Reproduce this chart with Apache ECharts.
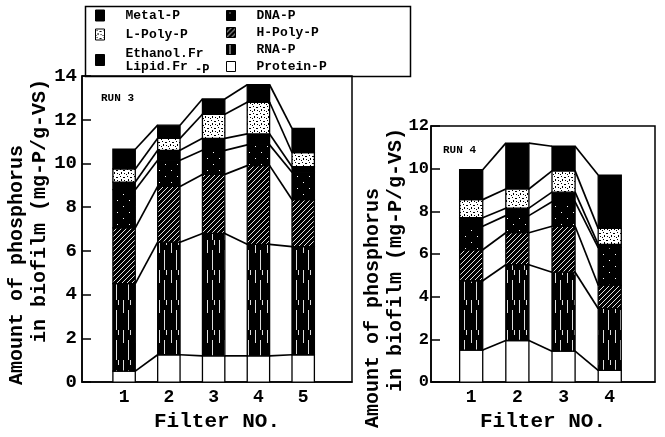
<!DOCTYPE html>
<html>
<head>
<meta charset="utf-8">
<script src="https://cdn.jsdelivr.net/npm/echarts@6/dist/echarts.min.js"></script>
<style>
  html, body { margin: 0; padding: 0; background: #fff; }
  #chart { width: 665px; height: 437px; }
</style>
</head>
<body>
<div id="chart"></div>
<script>
// amount of each fraction (mg-P/g-VS), bottom to top
const filters3 = [1, 2, 3, 4, 5];
const protein3 = [0.5, 1.25, 1.2, 1.2, 1.25];
const rna3 = [4.0, 5.15, 5.6, 5.1, 4.95];
const hpoly3 = [2.55, 2.55, 2.7, 3.6, 2.15];
const dna3 = [1.75, 1.2, 1.1, 0.95, 1.25];
const lipid3 = [0.35, 0.45, 0.55, 0.5, 0.25];
const lpoly3 = [0.6, 0.55, 1.1, 1.45, 0.65];
const metal3 = [0.9, 0.6, 0.7, 0.8, 1.1];

const filters4 = [1, 2, 3, 4];
const protein4 = [1.5, 1.95, 1.45, 0.55];
const rna4 = [3.25, 3.55, 3.7, 2.9];
const hpoly4 = [1.45, 1.5, 2.15, 1.1];
const dna4 = [1.1, 0.8, 1.15, 1.75];
const lipid4 = [0.4, 0.35, 0.45, 0.15];
const lpoly4 = [0.85, 0.9, 1.0, 0.75];
const metal4 = [1.4, 2.15, 1.15, 2.5];

const LIPID = 'Ethanol.Fr-Lipid.Fr-P';
const layerNames = ['Protein-P', 'RNA-P', 'H-Poly-P', 'DNA-P', LIPID, 'L-Poly-P', 'Metal-P'];
const FONT = 'Liberation Mono';
const BAR_W = 0.5;

function tile(w, h, bg, draw) {
    const c = document.createElement('canvas');
    c.width = w;
    c.height = h;
    const g = c.getContext('2d');
    g.fillStyle = bg;
    g.fillRect(0, 0, w, h);
    if (draw) draw(g);
    return { type: 'pattern', image: c, repeat: 'repeat' };
}

const fills = {
    'Protein-P': '#fff',
    'RNA-P': tile(12, 30, '#000', g => {
        g.fillStyle = '#ddd';
        g.fillRect(3, 0, 1, 13);
        g.fillRect(8, 10, 1, 20);
        g.fillRect(10, 0, 1, 5);
    }),
    'H-Poly-P': tile(5, 5, '#000', g => {
        g.strokeStyle = '#fff';
        g.lineWidth = 0.9;
        g.beginPath();
        g.moveTo(-1, 6); g.lineTo(6, -1);
        g.stroke();
    }),
    'DNA-P': tile(12, 12, '#000', g => {
        g.fillStyle = '#fff';
        g.fillRect(3, 2, 1, 1);
        g.fillRect(9, 8, 1, 1);
    }),
    [LIPID]: '#000',
    'L-Poly-P': tile(7, 7, '#fff', g => {
        g.fillStyle = '#000';
        g.fillRect(1, 1, 1, 1);
        g.fillRect(4, 2, 2, 1);
        g.fillRect(2, 4, 1, 2);
        g.fillRect(5, 5, 1, 1);
        g.fillRect(0, 6, 1, 1);
    }),
    'Metal-P': '#000'
};

function buildSeries(grid, xs, layers) {
    const out = [];
    let below = xs.map(() => 0);
    layers.forEach((vals, k) => {
        const lo = below.slice();
        const hi = lo.map((v, i) => v + vals[i]);
        below = hi;
        const name = layerNames[k];
        const fill = fills[name];
        out.push({
            type: 'custom',
            name: name,
            xAxisIndex: grid,
            yAxisIndex: grid,
            itemStyle: { color: fill, borderColor: '#000' },
            data: xs.map((x, i) => [x, lo[i], hi[i]]),
            encode: { x: 0, y: 2 },
            renderItem: function (params, api) {
                const i = params.dataIndex;
                const bw = api.size([BAR_W, 0])[0];
                const pLo = api.coord([api.value(0), api.value(1)]);
                const pHi = api.coord([api.value(0), api.value(2)]);
                const children = [{
                    type: 'rect',
                    shape: { x: pLo[0] - bw / 2, y: pHi[1], width: bw, height: pLo[1] - pHi[1] },
                    style: { fill: fill, stroke: '#000', lineWidth: 1.3 }
                }];
                if (i + 1 < xs.length) {
                    const q = api.coord([xs[i + 1], hi[i + 1]]);
                    children.push({
                        type: 'line',
                        shape: { x1: pHi[0] + bw / 2, y1: pHi[1], x2: q[0] - bw / 2, y2: q[1] },
                        style: { stroke: '#000', lineWidth: 1.7 }
                    });
                }
                return { type: 'group', children: children };
            }
        });
    });
    return out;
}

const series = [].concat(
    buildSeries(0, filters3, [protein3, rna3, hpoly3, dna3, lipid3, lpoly3, metal3]),
    buildSeries(1, filters4, [protein4, rna4, hpoly4, dna4, lipid4, lpoly4, metal4])
);

const axisLineStyle = { color: '#000', width: 1.5 };
const boldText = { fontFamily: FONT, fontWeight: 'bold', color: '#000' };
const sp = n => '\u00a0'.repeat(n);

function yAxis(grid, max, name, gap, labelSize, labelMargin) {
    return {
        gridIndex: grid,
        type: 'value',
        min: 0,
        max: max,
        interval: 2,
        axisLine: { show: true, lineStyle: axisLineStyle },
        axisTick: { show: true, inside: true, length: 9, lineStyle: axisLineStyle },
        axisLabel: Object.assign({ fontSize: labelSize, margin: labelMargin }, boldText),
        splitLine: { show: false },
        name: name,
        nameLocation: 'middle',
        nameGap: gap,
        nameMoveOverlap: false,
        nameTextStyle: Object.assign({ fontSize: 20, lineHeight: 23 }, boldText)
    };
}

function xAxis(grid, min, max, xs) {
    return {
        gridIndex: grid,
        type: 'value',
        min: min,
        max: max,
        axisLine: { show: true, onZero: false, lineStyle: axisLineStyle },
        axisTick: { show: false },
        axisLabel: Object.assign({ fontSize: 18, margin: 6, customValues: xs }, boldText),
        splitLine: { show: false },
        name: 'Filter NO.',
        nameLocation: 'middle',
        nameGap: 25,
        nameTextStyle: Object.assign({ fontSize: 21 }, boldText)
    };
}

const legendText = Object.assign({
    fontSize: 13,
    padding: [0, 0, 0, 16],
    rich: {
        a: Object.assign({ fontSize: 13, lineHeight: 13 }, boldText),
        b: Object.assign({ fontSize: 12, padding: [0, 0, -6, 0] }, boldText)
    }
}, boldText);

function legendItem(name) {
    return { name: name, itemStyle: { color: fills[name], borderColor: '#000', borderWidth: 1 } };
}

const chart = echarts.init(document.getElementById('chart'));
chart.setOption({
    animation: false,
    backgroundColor: '#fff',
    title: [
        { text: 'RUN 3', left: 101, top: 93, padding: 0, textStyle: Object.assign({ fontSize: 11 }, boldText) },
        { text: 'RUN 4', left: 443, top: 145, padding: 0, textStyle: Object.assign({ fontSize: 11 }, boldText) }
    ],
    graphic: [{
        type: 'rect',
        left: 83,
        top: 4,
        z: -1,
        shape: { width: 325, height: 70 },
        style: { fill: 'none', stroke: '#000', lineWidth: 1.5 }
    }],
    legend: [{
        orient: 'vertical',
        left: 95,
        top: 9,
        icon: 'rect',
        itemWidth: 9,
        itemHeight: 11,
        itemGap: 6,
        padding: 0,
        selectedMode: false,
        textStyle: legendText,
        formatter: n => n === LIPID ? '{a|Ethanol.Fr}\n{a|Lipid.Fr}{b| -P}' : n,
        data: ['Metal-P', 'L-Poly-P', LIPID].map(legendItem)
    }, {
        orient: 'vertical',
        left: 226,
        top: 9,
        icon: 'rect',
        itemWidth: 9,
        itemHeight: 10,
        itemGap: 4,
        padding: 0,
        selectedMode: false,
        textStyle: legendText,
        data: ['DNA-P', 'H-Poly-P', 'RNA-P', 'Protein-P'].map(legendItem)
    }],
    grid: [
        { left: 82, top: 76, width: 270, height: 316, show: true, borderColor: '#000', borderWidth: 1.5 },
        { left: 431, top: 126, width: 224, height: 267, show: true, borderColor: '#000', borderWidth: 1.5 }
    ],
    xAxis: [
        xAxis(0, 0.06, 6.09, filters3),
        xAxis(1, 0.13, 4.98, filters4)
    ],
    yAxis: [
        yAxis(0, 14, 'Amount of phosphorus' + sp(6) + '\n' + sp(3) + 'in biofilm (mg-P/g-VS)', 31, 19, 5),
        yAxis(1, 12, 'Amount of phosphorus' + sp(9) + '\n' + 'in biofilm (mg-P/g-VS)' + sp(1), 24, 17, 2)
    ],
    series: series
});
</script>
</body>
</html>
